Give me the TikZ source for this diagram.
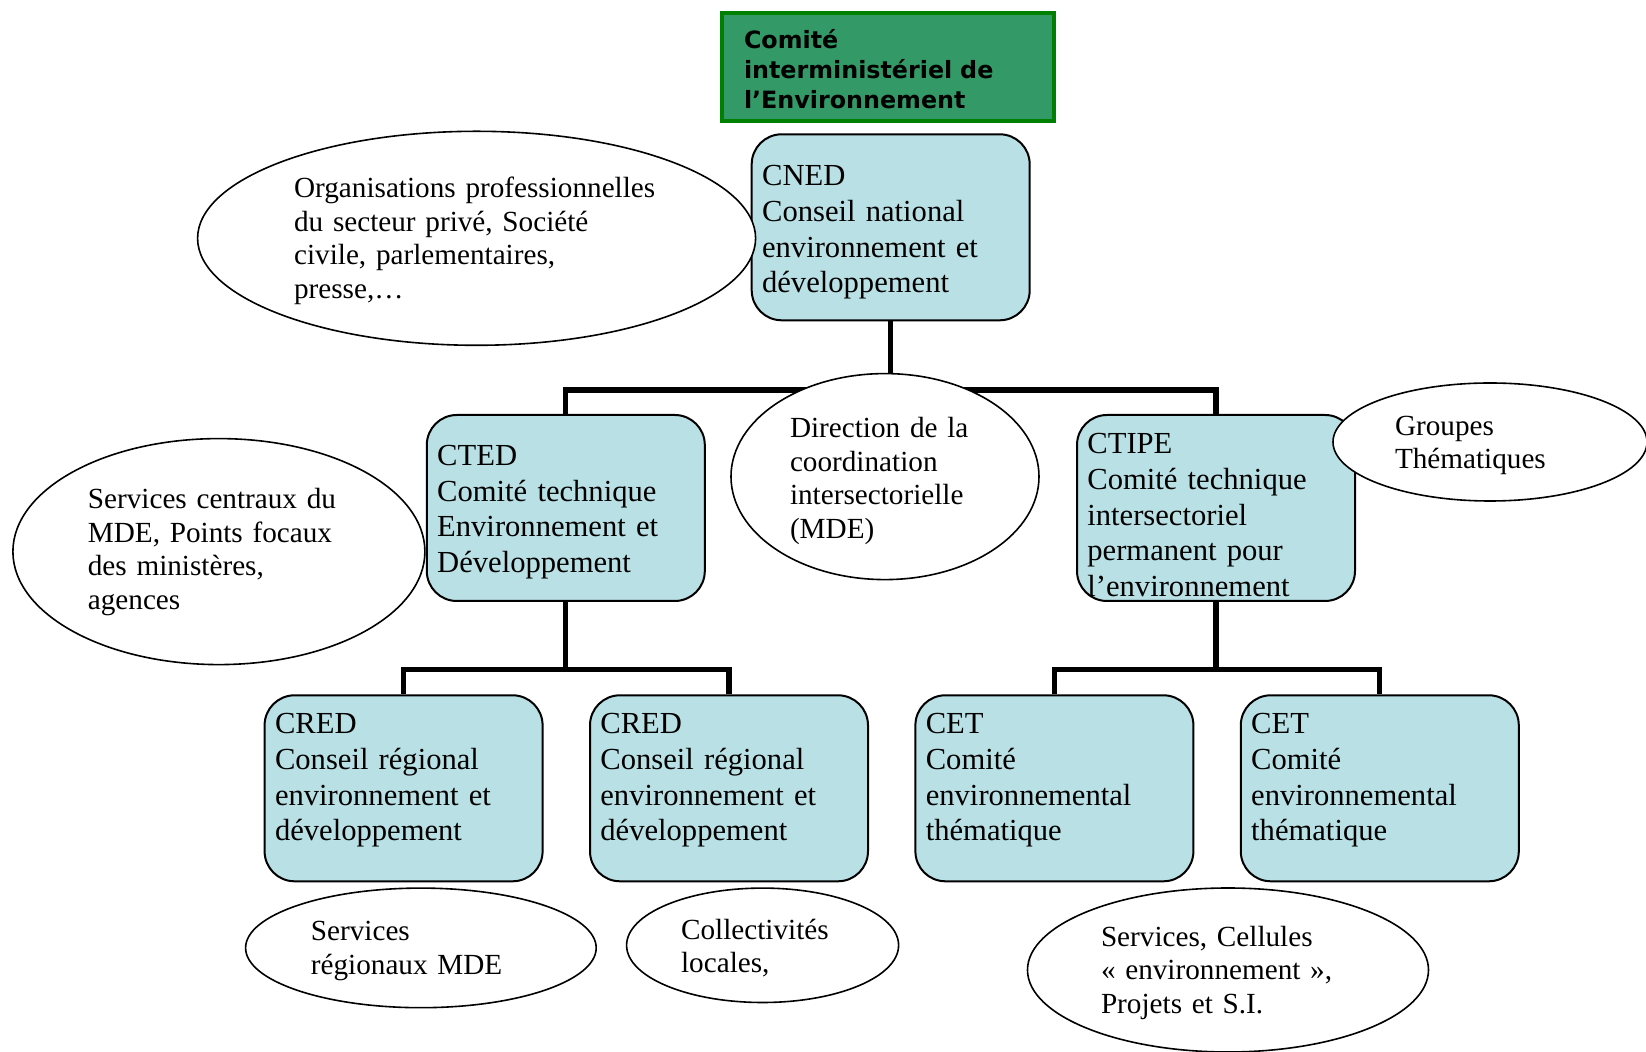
\documentclass[tikz,border=0pt]{standalone}
\usepackage{fontspec}
\setmainfont{Liberation Serif}
\newfontfamily\headfont{DejaVu Sans}
\usetikzlibrary{
    shapes.geometric,
    positioning,
    calc
}

\definecolor{boxblue}{RGB}{185,224,228}
\definecolor{headgreen}{RGB}{51,153,102}
\definecolor{headborder}{RGB}{0,128,0}

\begin{document}
\begin{tikzpicture}[
    x=0.5pt, y=-0.5pt,
    header/.style={rectangle, draw=headborder, line width=2.1pt, fill=headgreen,
                   minimum width=166pt, minimum height=54pt, text width=144pt, inner xsep=11pt,
                   align=left, text height=12pt, font=\headfont\bfseries\fontsize{11.9}{15.1}\selectfont},
    box/.style={rectangle, rounded corners=15pt, draw=black, line width=1pt, fill=boxblue,
                minimum width=139pt, minimum height=93pt, text width=128.6pt,
                inner xsep=5.2pt, inner ysep=1pt, align=left, text height=15.3pt,
                font=\fontsize{15.3}{17.85}\selectfont},
    lowbox/.style={box, text height=2.4pt},
    bubble/.style={ellipse, draw=black, line width=0.8pt, fill=white, inner sep=0pt,
                   align=left, text height=13pt, font=\fontsize{14.6}{16.8}\selectfont},
    link/.style={line width=2.6pt}
]

    \useasboundingbox (0,0) rectangle (1646,1052);
    \clip (0,0) rectangle (1646,1052);

    % Committee on top
    \node (cie) [header] at (888,66.8) {Comité\\interministériel de\\l’Environnement};

    % National and technical level
    \node (cned) [box] at (890.7,227.3) {CNED\\Conseil national\\environnement et\\développement};
    \node (cted) [box, text height=14.3pt] at (565.8,508) {CTED\\Comité technique\\Environnement et\\Développement};
    \node (ctipe) [box, text height=17.4pt] at (1216,508) {CTIPE\\Comité technique\\intersectoriel\\permanent pour\\l’environnement};

    % Regional and thematic level
    \node (cred1) [lowbox] at (403.6,788.3) {CRED\\Conseil régional\\environnement et\\développement};
    \node (cred2) [lowbox] at (729,788.3) {CRED\\Conseil régional\\environnement et\\développement};
    \node (cet1) [lowbox] at (1054.4,788.3) {CET\\Comité\\environnemental\\thématique};
    \node (cet2) [lowbox] at (1379.8,788.3) {CET\\Comité\\environnemental\\thématique};

    % Connections
    \draw [link] (cted.north) -- ++(0,-24) coordinate (bus1) -| (ctipe.north);
    \draw [link] (cned.south) -- (cned.south |- bus1);
    \draw [link] (cred1.north) -- ++(0,-25) coordinate (bus2) -| (cred2.north);
    \draw [link] (cted.south) -- (cted.south |- bus2);
    \draw [link] (cet1.north) -- ++(0,-25) coordinate (bus3) -| (cet2.north);
    \draw [link] (ctipe.south) -- (ctipe.south |- bus3);

    % Members
    \node (orga) [bubble, minimum width=279pt, minimum height=107pt, text width=182.5pt]
        at (476.6,238.3) {Organisations professionnelles\\du secteur privé, Société\\civile, parlementaires,\\presse,…};
    \node (central) [bubble, minimum width=206pt, minimum height=113pt, text width=131pt, text height=10.5pt]
        at (218.9,551.6) {Services centraux du\\MDE, Points focaux\\des ministères,\\agences};
    \node (dci) [bubble, minimum width=154pt, minimum height=103pt, text width=95pt, text height=14.6pt]
        at (885,476.6) {Direction de la\\coordination\\intersectorielle\\(MDE)};
    \node (groupes) [bubble, minimum width=157pt, minimum height=59pt, text width=95pt]
        at (1490,442) {Groupes\\Thématiques};
    \node (regio) [bubble, minimum width=175.3pt, minimum height=59.8pt, text width=110pt]
        at (420.9,947.9) {Services\\régionaux MDE};
    \node (local) [bubble, minimum width=136pt, minimum height=57.2pt, text width=81.5pt]
        at (762.6,945.3) {Collectivités\\locales,};
    \node (cellules) [bubble, minimum width=200.5pt, minimum height=82pt, text width=127pt]
        at (1228,970) {Services, Cellules\\« environnement »,\\Projets et S.I.};

\end{tikzpicture}
\end{document}
